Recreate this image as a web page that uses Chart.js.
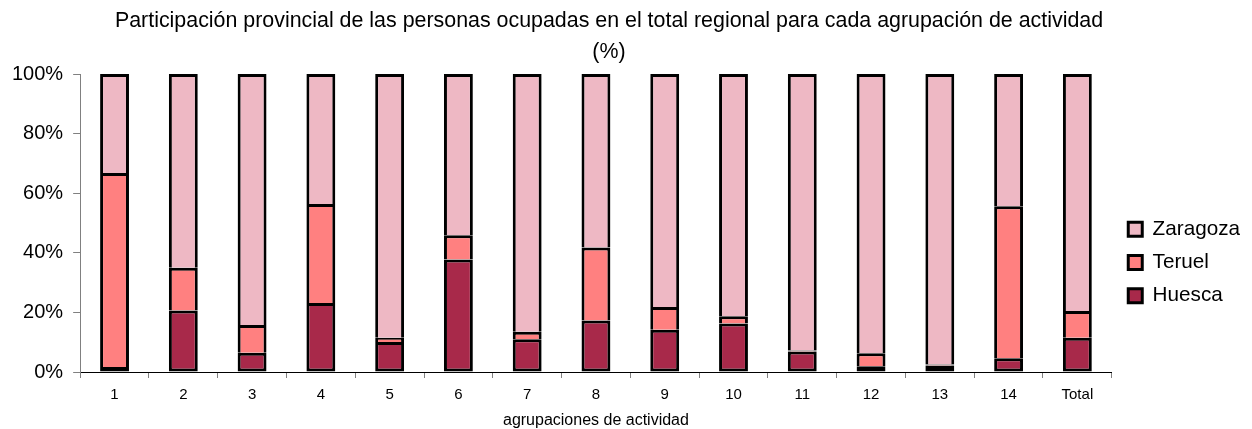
<!DOCTYPE html>
<html>
<head>
<meta charset="utf-8">
<script src="https://cdn.jsdelivr.net/npm/chart.js@4.4.1/dist/chart.umd.min.js"></script>
<style>
  body { margin: 0; background: #fff; }
  #wrap { width: 1252px; height: 429px; }
</style>
</head>
<body>
<div id="wrap"><canvas id="chart" width="1252" height="429"></canvas></div>
<script>
const categories = ["1", "2", "3", "4", "5", "6", "7", "8", "9", "10", "11", "12", "13", "14", "Total"];
const huesca = [1.7, 20.6, 6.5, 23.2, 10.1, 37.8, 11.0, 17.3, 14.2, 16.3, 6.9, 1.9, 2.2, 4.6, 11.5];
const teruel = [65.1, 14.4, 9.3, 33.2, 1.4, 8.1, 2.5, 24.5, 7.6, 2.4, 0.3, 4.4, 0.3, 51.0, 9.0];
const zaragoza = [33.2, 65.0, 84.2, 43.6, 88.5, 54.1, 86.5, 58.2, 78.2, 81.3, 92.8, 93.7, 97.5, 44.4, 79.5];
const yTicks = [0, 20, 40, 60, 80, 100];

Chart.defaults.font.family = "'Liberation Sans', Arial, sans-serif";
Chart.defaults.color = "#000";

const bar = {
    borderColor: "#000",
    borderWidth: 3,
    barPercentage: 0.42,
    categoryPercentage: 1,
};

// nudge title and legend to where the original puts them
const nudge = {
    id: "nudge",
    afterLayout(chart) {
        const lg = chart.legend;
        lg.left += 4; lg.right += 4;
        lg.top += 48; lg.bottom += 48;
        const t = chart.titleBlock;
        t.left -= 15; t.right -= 15;
    },
};

new Chart(document.getElementById("chart"), {
    type: "bar",
    data: {
        labels: categories,
        datasets: [
            { ...bar, label: "Huesca", data: huesca, backgroundColor: "#A8294A", borderSkipped: false },
            { ...bar, label: "Teruel", data: teruel, backgroundColor: "#FF8080", borderSkipped: "bottom" },
            { ...bar, label: "Zaragoza", data: zaragoza, backgroundColor: "#EEB8C4", borderSkipped: "bottom" },
        ],
    },
    plugins: [nudge],
    options: {
        responsive: false,
        animation: false,
        layout: { padding: { left: 2, right: 6, top: 0, bottom: 0 } },
        plugins: {
            tooltip: { enabled: false },
            title: {
                display: true,
                text: [
                    "Participación provincial de las personas ocupadas en el total regional para cada agrupación de actividad",
                    "(%)",
                ],
                font: { size: 21.4, weight: "normal", lineHeight: 1.45 },
                color: "#000",
                padding: { top: 6, bottom: 6 },
            },
            legend: {
                position: "right",
                reverse: true,
                labels: {
                    boxWidth: 14,
                    boxHeight: 14,
                    padding: 12.5,
                    font: { size: 20.7 },
                    color: "#000",
                },
            },
        },
        scales: {
            x: {
                stacked: true,
                grid: { drawOnChartArea: false, tickLength: 6, color: "#808080", offset: true },
                border: { color: "#000", width: 1 },
                ticks: { font: { size: 15 }, padding: 8, maxRotation: 0 },
                title: {
                    display: true,
                    text: "agrupaciones de actividad",
                    font: { size: 16, lineHeight: 1 },
                    color: "#000",
                    padding: { top: 1, bottom: 0 },
                },
            },
            y: {
                stacked: true,
                min: 0,
                max: 100,
                afterBuildTicks: (axis) => { axis.ticks = yTicks.map((v) => ({ value: v })); },
                grid: { drawOnChartArea: false, tickLength: 7, color: "#808080" },
                border: { color: "#808080", width: 1 },
                ticks: { font: { size: 20 }, padding: 10, callback: (v) => v + "%" },
            },
        },
    },
});
</script>
</body>
</html>
